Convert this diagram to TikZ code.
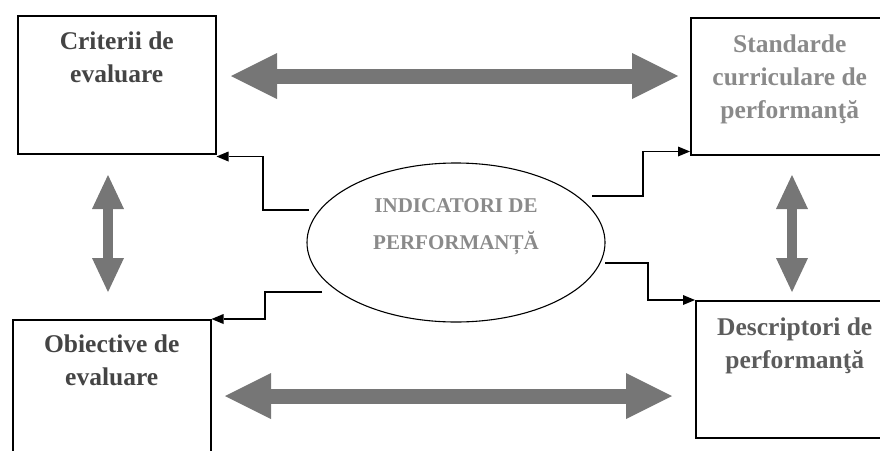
\documentclass[tikz,border=0pt]{standalone}
\usepackage{fontspec}
\setmainfont{Liberation Serif}
\usetikzlibrary{arrows.meta,shapes.geometric,calc}

\definecolor{darktext}{RGB}{68,68,68}
\definecolor{midtext}{RGB}{92,92,92}
\definecolor{lighttext}{RGB}{138,138,138}
\definecolor{arrowfill}{RGB}{118,118,118}

\begin{document}
\begin{tikzpicture}[x=1pt,y=-1pt,
  box/.style={draw=black,line width=1.5pt,minimum width=198pt,inner sep=0pt,anchor=north west},
  boxtext/.style={anchor=north,align=center,inner sep=0pt,
    font=\bfseries\fontsize{25.5}{33}\selectfont},
  ovaltext/.style={anchor=north,align=center,inner sep=0pt,text=lighttext,
    font=\bfseries\fontsize{21}{37}\selectfont},
  fath/.style={draw=arrowfill,line width=15pt,
    {Triangle[length=46pt,width=46pt,line width=0pt]}-{Triangle[length=46pt,width=46pt,line width=0pt]}},
  fatv/.style={draw=arrowfill,line width=10.5pt,
    {Triangle[length=34pt,width=32pt,line width=0pt]}-{Triangle[length=34pt,width=32pt,line width=0pt]}},
  link/.style={draw=black,line width=1.5pt,-{Triangle[length=12pt,width=10pt,line width=0pt]}}
]
\useasboundingbox (0,0) rectangle (880,450);

% the four boxes
\node[box,minimum height=138pt,
  label={[boxtext,text=darktext,yshift=-16.7pt]north:Criterii de\\evaluare}]
  (crit) at (17,15) {};
\node[box,minimum height=137pt,
  label={[boxtext,text=lighttext,yshift=-17.5pt]north:Standarde\\curriculare de\\performanţă}]
  (std) at (690,17) {};
\node[box,minimum height=140pt,
  label={[boxtext,text=darktext,yshift=-15.6pt]north:Obiective de\\evaluare}]
  (obj) at (12,319) {};
\node[box,minimum height=137pt,
  label={[boxtext,text=midtext,yshift=-18pt]north:Descriptori de\\performanţă}]
  (desc) at (695,300) {};

% central ellipse
\node[draw=black,line width=1.1pt,ellipse,minimum width=298pt,minimum height=159pt,inner sep=0pt,
  label={[ovaltext,yshift=-36pt]north:INDICATORI DE\\PERFORMANȚĂ}]
  (ind) at (456,242.5) {};

% broad two-way arrows between the boxes
\coordinate (hTopL) at (231,76);
\coordinate (hTopR) at (678,76);
\coordinate (hBotL) at (225,396);
\coordinate (hBotR) at (672,396);
\coordinate (vLeftT) at (108,175);
\coordinate (vLeftB) at (108,292);
\coordinate (vRightT) at (792,175);
\coordinate (vRightB) at (792,292);
\draw[fath] (hTopL) -- (hTopR);
\draw[fath] (hBotL) -- (hBotR);
\draw[fatv] (vLeftT) -- (vLeftB);
\draw[fatv] (vRightT) -- (vRightB);

% stepped links from the ellipse to each box
\coordinate (s1) at (309,210);
\coordinate (s2) at (592,196);
\coordinate (s3) at (322,292);
\coordinate (s4) at (605,263);
\draw[link] (s1) -- ++(-46,0) |- ($(crit.south east)+(0,2)$);
\draw[link] (s2) -- ++(51,0) |- ($(std.south west)+(0,-4)$);
\draw[link] (s3) -- ++(-57,0) |- (obj.north east);
\draw[link] (s4) -- ++(43,0) |- (desc.north west);
\end{tikzpicture}
\end{document}
